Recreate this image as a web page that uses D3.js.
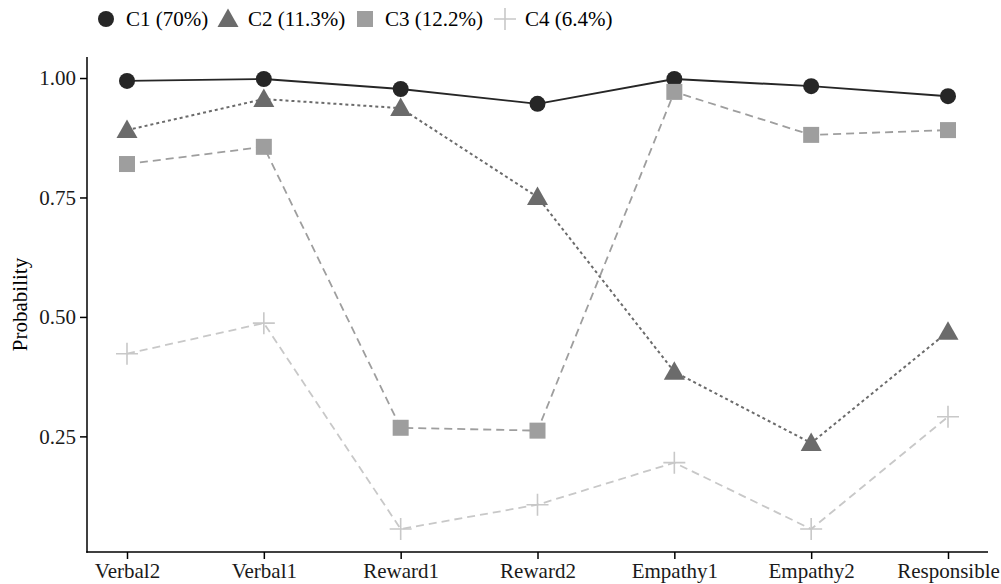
<!DOCTYPE html>
<html>
<head>
<meta charset="utf-8">
<script src="https://cdn.jsdelivr.net/npm/d3@7"></script>
<style>
  html, body { margin: 0; padding: 0; background: #fff; }
  svg { display: block; font-family: "Liberation Serif", "Times New Roman", serif; }
</style>
</head>
<body>
<svg id="chart" width="1001" height="584"></svg>
<script>
const categories = ["Verbal2", "Verbal1", "Reward1", "Reward2", "Empathy1", "Empathy2", "Responsible"];
const seriesNames = ["C1 (70%)", "C2 (11.3%)", "C3 (12.2%)", "C4 (6.4%)"];
const c1Values = [0.994, 0.998, 0.977, 0.946, 0.998, 0.983, 0.962];
const c2Values = [0.891, 0.956, 0.937, 0.751, 0.385, 0.236, 0.469];
const c3Values = [0.820, 0.856, 0.268, 0.262, 0.971, 0.881, 0.891];
const c4Values = [0.423, 0.487, 0.056, 0.107, 0.195, 0.056, 0.291];
const yTicks = [0.25, 0.50, 0.75, 1.00];

const series = [
  { name: seriesNames[0], values: c1Values, color: "#262626", dash: null, width: 1.9, shape: "circle" },
  { name: seriesNames[1], values: c2Values, color: "#6b6b6b", dash: "3,3", width: 2, shape: "triangle" },
  { name: seriesNames[2], values: c3Values, color: "#9e9e9e", dash: "8,5", width: 1.8, shape: "square" },
  { name: seriesNames[3], values: c4Values, color: "#c8c8c8", dash: "8,5", width: 1.8, shape: "cross" }
];

const svg = d3.select("#chart");
const mLeft = 87, mRight = 988, mTop = 57, mBottom = 552;

const x = d3.scalePoint().domain(categories).range([127, 948]);
const y = d3.scaleLinear().domain([0.008, 1.044]).range([mBottom, mTop]);

function drawShape(g, shape, color, cx, cy) {
  if (shape === "circle") {
    g.append("circle").attr("cx", cx).attr("cy", cy).attr("r", 8).attr("fill", color);
  } else if (shape === "triangle") {
    g.append("path")
      .attr("d", `M${cx},${cy - 10.5}L${cx + 10.5},${cy + 8}L${cx - 10.5},${cy + 8}Z`)
      .attr("fill", color);
  } else if (shape === "square") {
    g.append("rect").attr("x", cx - 8).attr("y", cy - 8).attr("width", 16).attr("height", 16).attr("fill", color);
  } else if (shape === "cross") {
    g.append("path")
      .attr("d", `M${cx - 11},${cy}H${cx + 11}M${cx},${cy - 11}V${cy + 11}`)
      .attr("stroke", color).attr("stroke-width", 1.6).attr("fill", "none");
  }
}

// Lines
const line = d3.line().x((d, i) => x(categories[i])).y(d => y(d));
series.forEach(s => {
  svg.append("path")
    .datum(s.values)
    .attr("d", line)
    .attr("fill", "none")
    .attr("stroke", s.color)
    .attr("stroke-width", s.width)
    .attr("stroke-dasharray", s.dash);
});
// Markers
series.forEach(s => {
  const g = svg.append("g");
  s.values.forEach((v, i) => drawShape(g, s.shape, s.color, x(categories[i]), y(v)));
});

// Axes
const yAxis = svg.append("g").attr("transform", `translate(${mLeft},0)`)
  .call(d3.axisLeft(y).tickValues(yTicks).tickFormat(d3.format(".2f")).tickSize(7).tickPadding(4));
const xAxis = svg.append("g").attr("transform", `translate(0,${mBottom})`)
  .call(d3.axisBottom(x).tickSize(7).tickPadding(4));
[yAxis, xAxis].forEach(a => {
  a.select(".domain").remove();
  a.selectAll(".tick line").attr("stroke", "#000").attr("stroke-width", 1.5);
  a.selectAll(".tick text").attr("fill", "#1a1a1a").style("font-size", "21px").style("font-family", "Liberation Serif, serif");
});
svg.append("line").attr("x1", mLeft).attr("x2", mLeft).attr("y1", mTop).attr("y2", mBottom + 0.75)
  .attr("stroke", "#000").attr("stroke-width", 1.5);
svg.append("line").attr("x1", mLeft - 0.75).attr("x2", mRight).attr("y1", mBottom).attr("y2", mBottom)
  .attr("stroke", "#000").attr("stroke-width", 1.5);

// Y title
svg.append("text")
  .attr("transform", `translate(27,${(mTop + mBottom) / 2}) rotate(-90)`)
  .attr("text-anchor", "middle")
  .style("font-size", "21px")
  .attr("fill", "#000")
  .text("Probability");

// Legend
const legendX = [106, 228, 365, 505];
series.forEach((s, i) => {
  const g = svg.append("g");
  drawShape(g, s.shape, s.color, legendX[i], 19);
  g.append("text").attr("x", legendX[i] + 20).attr("y", 26)
    .style("font-size", "21px").attr("fill", "#000").text(s.name);
});
</script>
</body>
</html>
